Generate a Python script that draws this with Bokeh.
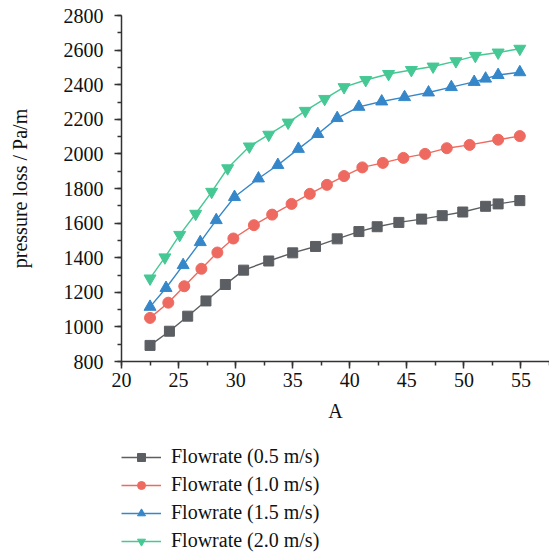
from bokeh.plotting import figure
from bokeh.models import Legend, LegendItem, SingleIntervalTicker, Range1d
from bokeh.layouts import column
from bokeh.embed import file_html
from bokeh.resources import INLINE

FONT = "Liberation Serif"

x_05 = [22.5, 24.2, 25.8, 27.4, 29.1, 30.7, 32.9, 35.0, 37.0, 38.9, 40.8, 42.4, 44.3, 46.3, 48.1, 49.9, 51.9, 53.0, 54.9]
y_05 = [893, 975, 1062, 1150, 1245, 1328, 1381, 1428, 1465, 1509, 1551, 1579, 1604, 1623, 1643, 1664, 1697, 1711, 1730]

x_10 = [22.5, 24.1, 25.5, 27.0, 28.4, 29.8, 31.6, 33.2, 34.9, 36.5, 38.0, 39.5, 41.1, 42.9, 44.7, 46.6, 48.5, 50.5, 53.0, 54.9]
y_10 = [1052, 1140, 1235, 1336, 1430, 1511, 1588, 1649, 1711, 1769, 1821, 1872, 1922, 1948, 1977, 2000, 2033, 2052, 2082, 2103]

x_15 = [22.5, 23.9, 25.4, 26.9, 28.3, 29.9, 32.0, 33.7, 35.5, 37.2, 38.9, 40.8, 42.8, 44.8, 46.9, 48.9, 50.9, 51.9, 53.0, 54.9]
y_15 = [1116, 1225, 1357, 1490, 1617, 1751, 1858, 1936, 2029, 2115, 2207, 2272, 2303, 2328, 2355, 2386, 2416, 2435, 2456, 2472]

x_20 = [22.5, 23.8, 25.1, 26.5, 27.9, 29.3, 31.2, 32.9, 34.6, 36.1, 37.8, 39.5, 41.4, 43.4, 45.4, 47.3, 49.3, 51.0, 53.0, 54.9]
y_20 = [1280, 1402, 1532, 1654, 1781, 1917, 2043, 2111, 2181, 2249, 2318, 2386, 2427, 2462, 2485, 2505, 2536, 2567, 2586, 2608]

labels = ["Flowrate (0.5 m/s)", "Flowrate (1.0 m/s)", "Flowrate (1.5 m/s)", "Flowrate (2.0 m/s)"]
colors = ["#5b5e62", "#ee6a60", "#3587c9", "#46c894"]
markers = ["square", "circle", "triangle", "inverted_triangle"]
sizes = [10, 11, 12, 12]

p = figure(width=549, height=430, x_range=Range1d(20, 57.5), y_range=Range1d(800, 2800),
           output_backend="svg", toolbar_location=None,
           min_border_left=121, min_border_right=0, min_border_top=15, min_border_bottom=69)
p.outline_line_color = None
p.xgrid.visible = False
p.ygrid.visible = False

p.xaxis.ticker = SingleIntervalTicker(interval=5, num_minor_ticks=2)
p.yaxis.ticker = SingleIntervalTicker(interval=200, num_minor_ticks=2)
for ax in (p.xaxis, p.yaxis):
    ax.axis_line_color = "#333333"
    ax.axis_line_width = 1.5
    ax.major_tick_line_color = "#333333"
    ax.minor_tick_line_color = "#333333"
    ax.major_tick_line_width = 1.5
    ax.minor_tick_line_width = 1.5
    ax.major_tick_out = 7
    ax.major_tick_in = 0
    ax.minor_tick_out = 4
    ax.minor_tick_in = 0
    ax.major_label_text_font = FONT
    ax.major_label_text_font_size = "20px"
    ax.major_label_text_color = "#111111"
    ax.axis_label_text_font = FONT
    ax.axis_label_text_font_size = "20px"
    ax.axis_label_text_font_style = "normal"
    ax.axis_label_text_color = "#111111"
p.xaxis.axis_label = "A"
p.yaxis.axis_label = "pressure loss / Pa/m"
p.xaxis.major_label_standoff = 4
p.yaxis.major_label_standoff = 11
p.xaxis.axis_label_standoff = 10
p.yaxis.axis_label_standoff = 30

series = [(x_05, y_05), (x_10, y_10), (x_15, y_15), (x_20, y_20)]
for (xs, ys), c, m, s in zip(series, colors, markers, sizes):
    p.line(xs, ys, line_color=c, line_width=1.4)
    p.scatter(xs, ys, marker=m, size=s, fill_color=c, line_color=c)

# legend panel below the plot (same series, drawn outside its visible ranges)
q = figure(width=549, height=122, x_range=Range1d(0, 1), y_range=Range1d(0, 1),
           output_backend="svg", toolbar_location=None,
           x_axis_type=None, y_axis_type=None, min_border=0)
q.outline_line_color = None
q.xgrid.visible = False
q.ygrid.visible = False
items = []
for (xs, ys), lab, c, m, s in zip(series, labels, colors, markers, sizes):
    l = q.line(xs, ys, line_color=c, line_width=1.4)
    sc = q.scatter(xs, ys, marker=m, size=s, fill_color=c, line_color=c)
    items.append(LegendItem(label=lab, renderers=[l, sc]))
legend = Legend(items=items, location=(0, 0), orientation="vertical",
                padding=0, margin=0, spacing=5, glyph_width=40, glyph_height=20,
                label_height=20, label_standoff=10,
                label_text_font=FONT, label_text_font_size="20px",
                label_text_color="#111111",
                border_line_color=None, background_fill_alpha=0)
q.add_layout(legend, "center")

layout = column(p, q, spacing=0)
open("out.html", "w").write(file_html(layout, INLINE))
